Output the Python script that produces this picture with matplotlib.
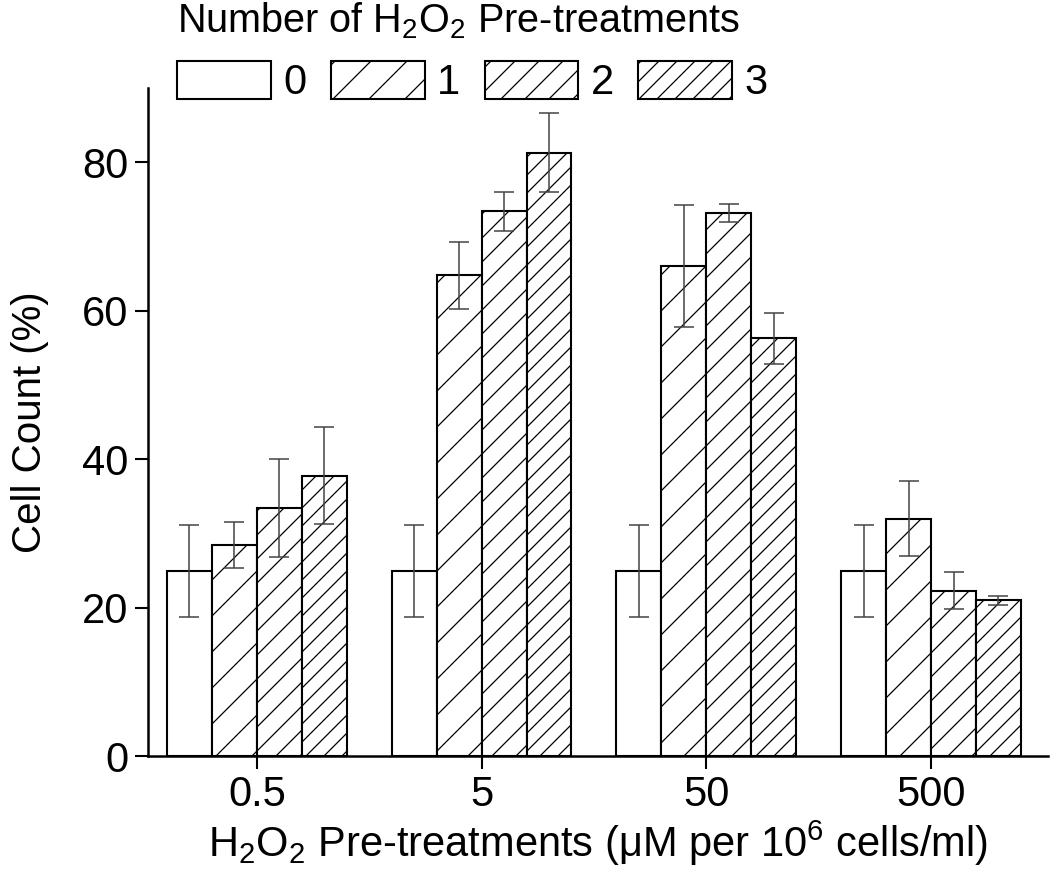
import numpy as np
import matplotlib
matplotlib.use("Agg")
from matplotlib import pyplot as plt

DPI = 216          # hatch spacing is fixed per inch, so a higher dpi thins the hatches
S = 100 / DPI      # sizes below are written as if at 100 dpi

plt.rcParams['font.family'] = ['Liberation Sans', 'DejaVu Sans']
plt.rcParams['mathtext.fontset'] = 'custom'
plt.rcParams['mathtext.rm'] = 'Liberation Sans'
plt.rcParams['mathtext.it'] = 'Liberation Sans'
plt.rcParams['hatch.linewidth'] = 0.9 * S

doses = ['0.5', '5', '50', '500']
n_pre = ['0', '1', '2', '3']
hatches = ['', '//', '///', '////']

# mean cell count (%) per number of pre-treatments, one value per dose
means_0 = [25.0, 25.0, 25.0, 25.0]
means_1 = [28.4, 64.8, 66.0, 32.0]
means_2 = [33.4, 73.4, 73.2, 22.3]
means_3 = [37.8, 81.3, 56.3, 21.0]
err_0 = [6.2, 6.2, 6.2, 6.2]
err_1 = [3.1, 4.5, 8.2, 5.0]
err_2 = [6.6, 2.6, 1.2, 2.5]
err_3 = [6.5, 5.3, 3.4, 0.6]

means = [means_0, means_1, means_2, means_3]
errs = [err_0, err_1, err_2, err_3]

fig = plt.figure(figsize=(1050 / DPI, 874 / DPI), dpi=DPI)
ax = fig.add_axes([0.141, 0.135, 0.857, 0.764])

x = np.arange(len(doses))
w = 0.2
handles = []
for i in range(4):
    b = ax.bar(x + (i - 1.5) * w, means[i], w, color='white', edgecolor='black',
               linewidth=1.5 * S, hatch=hatches[i], label=n_pre[i])
    ax.errorbar(x + (i - 1.5) * w, means[i], yerr=errs[i], fmt='none',
                ecolor='#444444', elinewidth=1.1 * S, capsize=7 * S, capthick=1.1 * S)
    handles.append(b)

ax.set_xlim(-0.484, 3.52)
ax.set_ylim(0, 90)
ax.set_yticks([0, 20, 40, 60, 80])
ax.set_xticks(x)
ax.set_xticklabels(doses)
for s in ['top', 'right']:
    ax.spines[s].set_visible(False)
for s in ['left', 'bottom']:
    ax.spines[s].set_linewidth(1.8 * S)
ax.tick_params(direction='out', length=9 * S, width=1.5 * S, labelsize=30 * S, pad=5 * S)
ax.set_ylabel('Cell Count (%)', fontsize=29 * S, labelpad=24 * S)
ax.set_xlabel(r'H$_2$O$_2$ Pre-treatments ($\mu$M per 10$^6$ cells/ml)',
              fontsize=30 * S, labelpad=2 * S)

leg = fig.legend(handles=handles, labels=n_pre, ncol=4, frameon=False,
                 title=r'Number of H$_2$O$_2$ Pre-treatments',
                 title_fontsize=28.5 * S, fontsize=30 * S, alignment='left',
                 handlelength=2.25, handleheight=1.0, handletextpad=0.3,
                 columnspacing=0.58, borderpad=0, borderaxespad=0,
                 loc='upper left', bbox_to_anchor=(0.169, 1.0))

fig.savefig('out.png', dpi=DPI)
